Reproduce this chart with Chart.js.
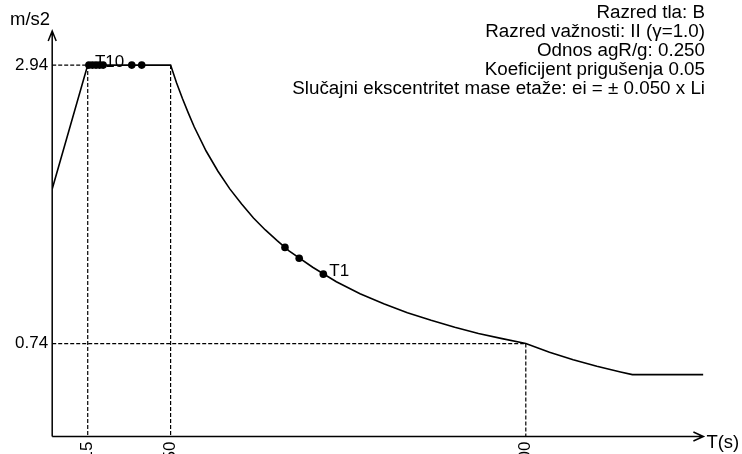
<!DOCTYPE html>
<html><head><meta charset="utf-8">
<script src="https://cdn.jsdelivr.net/npm/chart.js@4/dist/chart.umd.min.js"></script>
<style>html,body{margin:0;padding:0;background:#fff;overflow:hidden}#wrap{width:742px;height:454px}</style>
</head><body><div id="wrap"><canvas id="c" width="742" height="454"></canvas></div>
<script>
// Design spectrum (period T in s, Sd in m/s2)
const spectrumT  = [0, 0.15, 0.5, 0.525, 0.55, 0.575, 0.6, 0.65, 0.7, 0.75, 0.8, 0.85, 0.9, 0.95, 1.0, 1.1, 1.2, 1.3, 1.4, 1.5, 1.6, 1.7, 1.8, 1.9, 2.0, 2.1, 2.2, 2.3, 2.4, 2.45, 2.75];
const spectrumSd = [1.96, 2.94, 2.94, 2.80, 2.675, 2.56, 2.45, 2.26, 2.10, 1.96, 1.84, 1.73, 1.635, 1.55, 1.47, 1.34, 1.225, 1.13, 1.05, 0.98, 0.92, 0.865, 0.815, 0.775, 0.736, 0.667, 0.608, 0.556, 0.511, 0.49, 0.49];
// Periods of the modes
const periodNames = ['T1','T2','T3','T4','T5','T6','T7','T8','T9','T10'];
const periodT  = [1.145, 1.043, 0.983, 0.378, 0.336, 0.215, 0.20, 0.185, 0.17, 0.155];
const periodSd = [1.285, 1.411, 1.497, 2.94, 2.94, 2.94, 2.94, 2.94, 2.94, 2.94];
const labelledPeriods = ['T1','T10'];
// Corner periods and reference levels
const TB = 0.15, TC = 0.5, TD = 2.0;
const SdMax = 2.94, SdTD = 0.736;
// Ticks
const xTickValues = [0.15, 0.5, 2.0];
const xTickLabels = ['0.15', '0.50', '2.00'];
const yTickValues = [0.74, 2.94];
const yTickLabels = ['0.74', '2.94'];
// Info text
const infoLines = ['Razred tla: B', 'Razred važnosti: II (γ=1.0)', 'Odnos agR/g: 0.250', 'Koeficijent prigušenja 0.05', 'Slučajni ekscentritet mase etaže: ei = ± 0.050 x Li'];
const yAxisTitle = 'm/s2';
const xAxisTitle = 'T(s)';

const FONT = '"Liberation Sans", Arial, sans-serif';
const pts = (xs, ys) => xs.map((x, i) => ({x: x, y: ys[i]}));
const dashed = (data) => ({data: data, showLine: true, borderColor: '#000', borderWidth: 1.2, borderDash: [4, 2], pointRadius: 0, fill: false});

const overlay = {
  id: 'overlay',
  afterDraw(chart) {
    const ctx = chart.ctx, xs = chart.scales.x, ys = chart.scales.y;
    const x0 = xs.getPixelForValue(0), y0 = ys.getPixelForValue(0);
    const xr = xs.right, yt = ys.top;
    ctx.save();
    ctx.strokeStyle = '#000'; ctx.lineWidth = 1.5; ctx.setLineDash([]);
    ctx.beginPath();
    ctx.moveTo(x0, y0); ctx.lineTo(x0, yt);
    ctx.moveTo(x0 - 4, yt + 10); ctx.lineTo(x0, yt); ctx.lineTo(x0 + 4, yt + 10);
    ctx.moveTo(x0, y0); ctx.lineTo(xr, y0);
    ctx.moveTo(xr - 10, y0 - 4.5); ctx.lineTo(xr, y0); ctx.lineTo(xr - 10, y0 + 4.5);
    ctx.stroke();
    ctx.fillStyle = '#000';
    ctx.font = '18.5px ' + FONT;
    ctx.textAlign = 'left'; ctx.textBaseline = 'alphabetic';
    ctx.fillText(yAxisTitle, 10, 25);
    ctx.fillText(xAxisTitle, xr + 3, y0 + 11);
    ctx.textAlign = 'right';
    ctx.font = '18.8px ' + FONT;
    infoLines.forEach((s, i) => ctx.fillText(s, 705, 17.5 + i * 19.2));
    // period labels
    const meta = chart.getDatasetMeta(0);
    ctx.textAlign = 'left';
    ctx.font = '17px ' + FONT;
    periodNames.forEach((n, i) => {
      if (labelledPeriods.includes(n)) {
        const el = meta.data[i];
        ctx.fillText(n, el.x + 6, el.y + 1.5);
      }
    });
    ctx.restore();
  }
};

new Chart(document.getElementById('c'), {
  type: 'scatter',
  data: {
    datasets: [
      {data: pts(periodT, periodSd), pointRadius: 3.8, pointBackgroundColor: '#000', pointBorderColor: '#000', pointBorderWidth: 0, showLine: false},
      {data: pts(spectrumT, spectrumSd), showLine: true, borderColor: '#000', borderWidth: 1.6, pointRadius: 0, fill: false, tension: 0},
      dashed([{x: 0, y: SdMax}, {x: TB, y: SdMax}]),
      dashed([{x: TB, y: SdMax}, {x: TB, y: 0}]),
      dashed([{x: TC, y: SdMax}, {x: TC, y: 0}]),
      dashed([{x: 0, y: SdTD}, {x: TD, y: SdTD}]),
      dashed([{x: TD, y: SdTD}, {x: TD, y: 0}])
    ]
  },
  options: {
    responsive: false, animation: false, devicePixelRatio: 1,
    layout: {padding: {left: 0, top: 31, right: 38.6, bottom: 0}},
    plugins: {legend: {display: false}, tooltip: {enabled: false}, title: {display: false}},
    scales: {
      x: {
        type: 'linear', min: 0, max: 2.75,
        grid: {display: false, drawTicks: false}, border: {display: false},
        ticks: {color: '#000', font: {size: 17, family: FONT}, minRotation: 90, maxRotation: 90, autoSkip: false, padding: 5,
          callback: (v) => { const i = xTickValues.indexOf(v); return i >= 0 ? xTickLabels[i] : ''; }},
        afterBuildTicks: (s) => { s.ticks = xTickValues.map(v => ({value: v})); },
        afterFit: (s) => { s.height = 17.5; }
      },
      y: {
        type: 'linear', min: 0, max: 3.21,
        grid: {display: false, drawTicks: false}, border: {display: false},
        ticks: {color: '#000', font: {size: 17, family: FONT}, padding: 4,
          callback: (v) => { const i = yTickValues.indexOf(v); return i >= 0 ? yTickLabels[i] : ''; }},
        afterBuildTicks: (s) => { s.ticks = yTickValues.map(v => ({value: v})); },
        afterFit: (s) => { s.width = 52.2; }
      }
    }
  },
  plugins: [overlay]
});
</script>
</body></html>
